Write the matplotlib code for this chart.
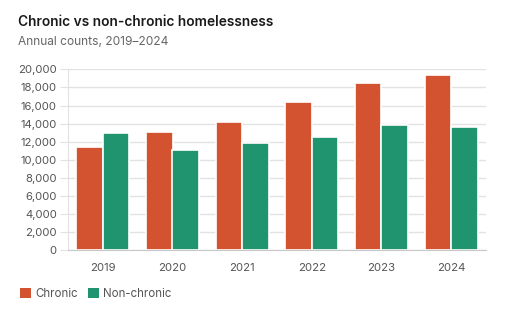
import matplotlib
matplotlib.use("Agg")
import matplotlib.pyplot as plt
import numpy as np
from matplotlib.patches import Patch
from matplotlib.ticker import FuncFormatter

years = ["2019", "2020", "2021", "2022", "2023", "2024"]
chronic = [11400, 13050, 14200, 16400, 18450, 19350]
non_chronic = [13000, 11100, 11900, 12500, 13900, 13600]
series_names = ["Chronic", "Non-chronic"]
colors = ["#d35330", "#20946e"]

plt.rcParams['font.family'] = ['Inter', 'DejaVu Sans']

fig = plt.figure(figsize=(5.12, 3.30), dpi=100)
ax = fig.add_axes([68/512, 1-250.3/330, (486-68)/512, (250.3-69.3)/330])

x = np.arange(len(years))
w = 0.38
ax.bar(x - w/2, chronic, width=w, color=colors[0], edgecolor="white", linewidth=1.2, zorder=3)
ax.bar(x + w/2, non_chronic, width=w, color=colors[1], edgecolor="white", linewidth=1.2, zorder=3)

ax.set_xlim(-0.5, len(years) - 0.5)
ax.set_ylim(0, 20000)
ax.set_yticks(np.arange(0, 20001, 2000))
ax.yaxis.set_major_formatter(FuncFormatter(lambda v, p: f"{int(v):,}"))
ax.set_xticks(x)
ax.set_xticklabels(years)

ax.grid(axis="y", color="#e2e2e2", linewidth=1, zorder=0)
for s in ["top", "right"]:
    ax.spines[s].set_visible(False)
ax.spines["left"].set_color("#e2e2e2")
ax.spines["bottom"].set_color("#c8c8c8")
ax.tick_params(axis="y", length=6, color="#e2e2e2", labelsize=8.2, labelcolor="#555555", pad=2)
ax.tick_params(axis="x", length=0, labelsize=8.2, labelcolor="#555555", pad=9)

fig.text(18/512, 1-22/330, "Chronic vs non-chronic homelessness", fontsize=9.9, fontweight="semibold",
         color="#1a1a1a", va="center", ha="left")
fig.text(18/512, 1-42/330, "Annual counts, 2019\u20132024", fontsize=8.6, color="#666666",
         va="center", ha="left")

handles = [Patch(facecolor=c, edgecolor="none") for c in colors]
leg = fig.legend(handles, series_names, loc="center left", bbox_to_anchor=(10/512, 1-294/330),
                 ncol=2, frameon=False, fontsize=8.3, handlelength=0.9, handleheight=0.9,
                 handletextpad=0.4, columnspacing=0.9, labelcolor="#555555")

fig.savefig("out.png", dpi=100)
